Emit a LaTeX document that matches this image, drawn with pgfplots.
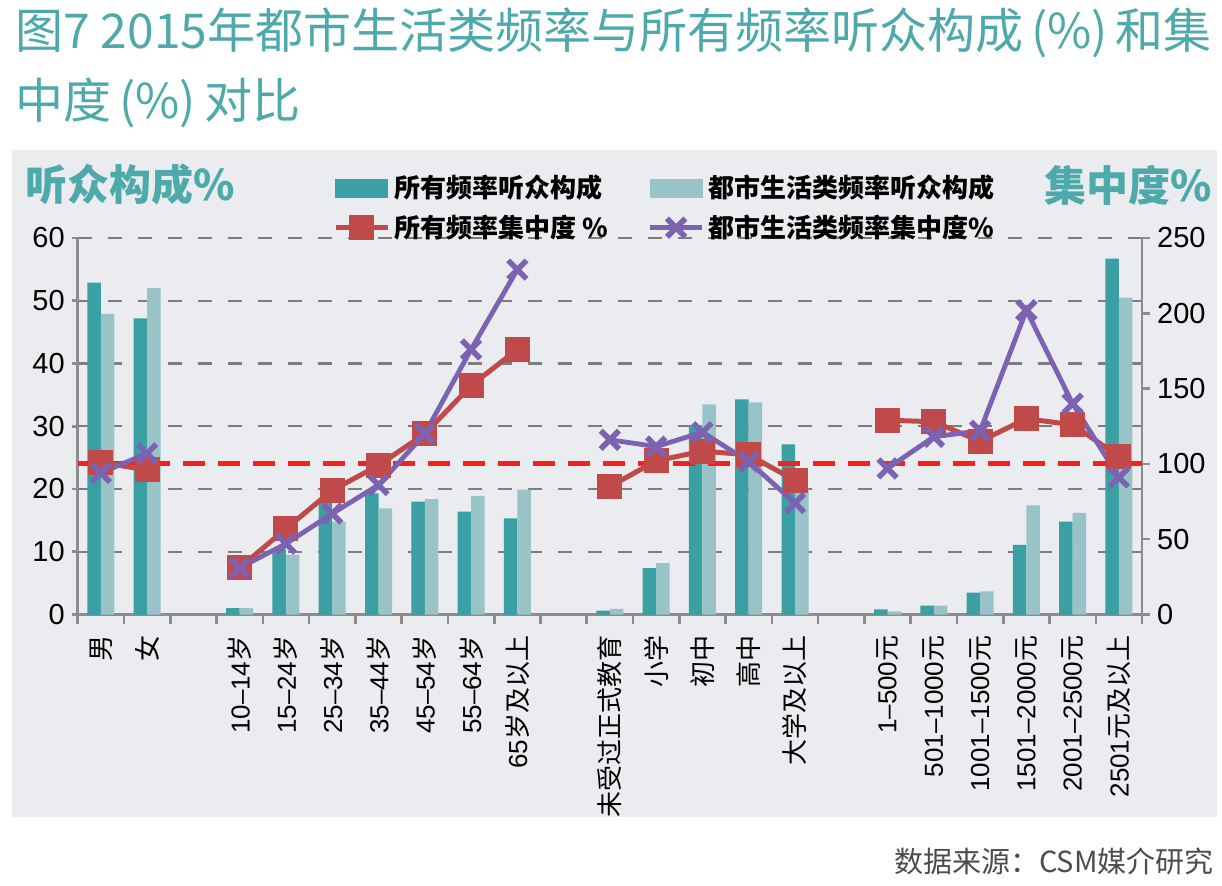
\documentclass[border=0pt]{standalone}
\usepackage{fontspec}
\setmainfont{Liberation Sans}
\newfontfamily\cjk{Noto Sans CJK SC}
\usepackage{pgfplots}
\usepackage{pgfplotstable}
\pgfplotsset{compat=1.18}
\newcommand\zh[1]{{\cjk #1}}
\definecolor{tealdark}{RGB}{58,160,163}
\definecolor{teallight}{RGB}{152,196,200}
\definecolor{redline}{RGB}{192,74,74}
\definecolor{purp}{RGB}{124,98,178}
\definecolor{refred}{RGB}{240,35,30}
\definecolor{tealt}{RGB}{78,170,170}
\definecolor{panel}{RGB}{235,236,239}
\definecolor{gridgray}{RGB}{125,125,125}
\definecolor{axisgray}{RGB}{140,140,140}
\pgfplotsset{
  linelegend/.style={legend image code/.code={\draw[mark repeat=2,mark phase=2,##1] plot coordinates {(0pt,0pt) (13pt,0pt) (26pt,0pt)};}},
  darklegend/.style={legend image code/.code={\fill[tealdark] (0pt,-4.5pt) rectangle (26pt,4.5pt);}},
  lightlegend/.style={legend image code/.code={\fill[teallight] (0pt,-4.5pt) rectangle (26pt,4.5pt);}},
}

\pgfplotstableread{
x dark light red purple
0 52.9 47.9 101 94
1 47.2 52.0 96 107
2 nan nan nan nan
3 1.0 1.0 31 31
4 10.4 9.5 57 47
5 18.0 14.8 82.5 67
6 19.3 16.9 99 86
7 18.0 18.4 120 120
8 16.4 18.9 152 176
9 15.3 19.9 176 229
10 nan nan nan nan
11 0.6 0.9 85 116
12 7.4 8.2 102 111.5
13 30.2 33.5 108.5 121
14 34.3 33.8 106 101.5
15 27.1 20.0 89 74
16 nan nan nan nan
17 0.8 0.5 129 97
18 1.4 1.4 128 118
19 3.5 3.7 115 122
20 11.1 17.4 130 202
21 14.8 16.2 126 140
22 56.7 50.5 105 91
}\datatable

\begin{document}
\begin{tikzpicture}
\path[use as bounding box] (0pt,0pt) rectangle (611pt,442.5pt);
\fill[panel] (6pt,34pt) rectangle (608.5pt,367.5pt);
\node[anchor=base west, inner sep=0pt, text=tealt, font=\cjk\fontsize{24}{24}\selectfont] at (7.5pt,418pt) {图7 2015年都市生活类频率与所有频率听众构成\,(\%)\,和集};
\node[anchor=base west, inner sep=0pt, text=tealt, font=\cjk\fontsize{24}{24}\selectfont] at (7.5pt,383pt) {中度\,(\%)\,对比};
\node[anchor=west, inner sep=0pt, text=tealt, font=\cjk\bfseries\fontsize{21}{21}\selectfont] at (12.5pt,350pt) {听众构成\%};
\node[anchor=east, inner sep=0pt, text=tealt, font=\cjk\bfseries\fontsize{21}{21}\selectfont] at (606pt,350pt) {集中度\%};
\node[anchor=east, inner sep=0pt, text=black!70, font=\cjk\fontsize{14.5}{14.5}\selectfont] at (607pt,12pt) {数据来源：CSM媒介研究};

\begin{axis}[
  at={(38.85pt,135.25pt)}, anchor=south west,
  scale only axis, width=532.2pt, height=188.25pt,
  xmin=-0.5, xmax=22.5, ymin=0, ymax=60,
  axis x line*=bottom, axis y line*=left,
  axis line style={draw=axisgray, line width=1.3pt},
  tick align=outside,
  xtick={0,...,22},
  xticklabels={\zh{男},\zh{女},{},10--14\zh{岁},15--24\zh{岁},25--34\zh{岁},35--44\zh{岁},45--54\zh{岁},55--64\zh{岁},65\zh{岁及以上},{},\zh{未受过正式教育},\zh{小学},\zh{初中},\zh{高中},\zh{大学及以上},{},1--500\zh{元},501--1000\zh{元},1001--1500\zh{元},1501--2000\zh{元},2001--2500\zh{元},2501\zh{元及以上}},
  major x tick style={draw=none},
  minor xtick={-0.5,0.5,...,22.5},
  minor x tick style={draw=axisgray, line width=1.3pt},
  minor tick length=4.5pt,
  major tick length=3pt,
  ytick={0,10,...,60},
  y tick style={draw=axisgray, line width=1.3pt},
  xticklabel style={rotate=90, anchor=east, font=\fontsize{13}{13}\selectfont, xshift=-4pt},
  yticklabel style={font=\fontsize{14.5}{14.5}\selectfont},
  /pgf/number format/assume math mode=true,
  ymajorgrids=true,
  major grid style={draw=gridgray, line width=1.2pt, dash pattern=on 7pt off 8pt},
  ybar=0pt, bar width=6.75pt,
]
\addplot[fill=tealdark, draw=none] table[x=x,y=dark]{\datatable};
\addplot[fill=teallight, draw=none] table[x=x,y=light]{\datatable};
\end{axis}

\begin{axis}[
  at={(38.85pt,135.25pt)}, anchor=south west,
  scale only axis, width=532.2pt, height=188.25pt,
  xmin=-0.5, xmax=22.5, ymin=0, ymax=250,
  axis x line=none, axis y line*=right,
  axis line style={draw=axisgray, line width=1.3pt},
  tick align=outside,
  ytick={0,50,...,250},
  major tick length=4pt,
  y tick style={draw=axisgray, line width=1.3pt},
  yticklabel style={font=\fontsize{14.5}{14.5}\selectfont},
  /pgf/number format/assume math mode=true,
  unbounded coords=jump,
  legend columns=2,
  legend cell align=left,
  legend style={at={(0.234,1.189)}, anchor=north west, draw=none, fill=none,
    font=\cjk\bfseries\fontsize{13}{13}\selectfont,
    /tikz/every even column/.append style={column sep=18pt},
    row sep=3pt},
]
\addplot[refred, line width=2.6pt, dash pattern=on 11pt off 6.5pt, forget plot] coordinates {(-0.5,100) (22.5,100)};
\addlegendimage{darklegend}
\addlegendentry{所有频率听众构成}
\addlegendimage{lightlegend}
\addlegendentry{都市生活类频率听众构成}
\addplot[redline, line width=2.5pt, mark=square*, mark size=5pt, mark options={solid, fill=redline}, linelegend]
  table[x=x,y=red]{\datatable};
\addlegendentry{所有频率集中度 \%}
\addplot[purp, line width=2.4pt, mark=x, mark size=6.5pt, mark options={solid, line width=2.8pt}, linelegend]
  table[x=x,y=purple]{\datatable};
\addlegendentry{都市生活类频率集中度\%}
\end{axis}
\end{tikzpicture}
\end{document}
